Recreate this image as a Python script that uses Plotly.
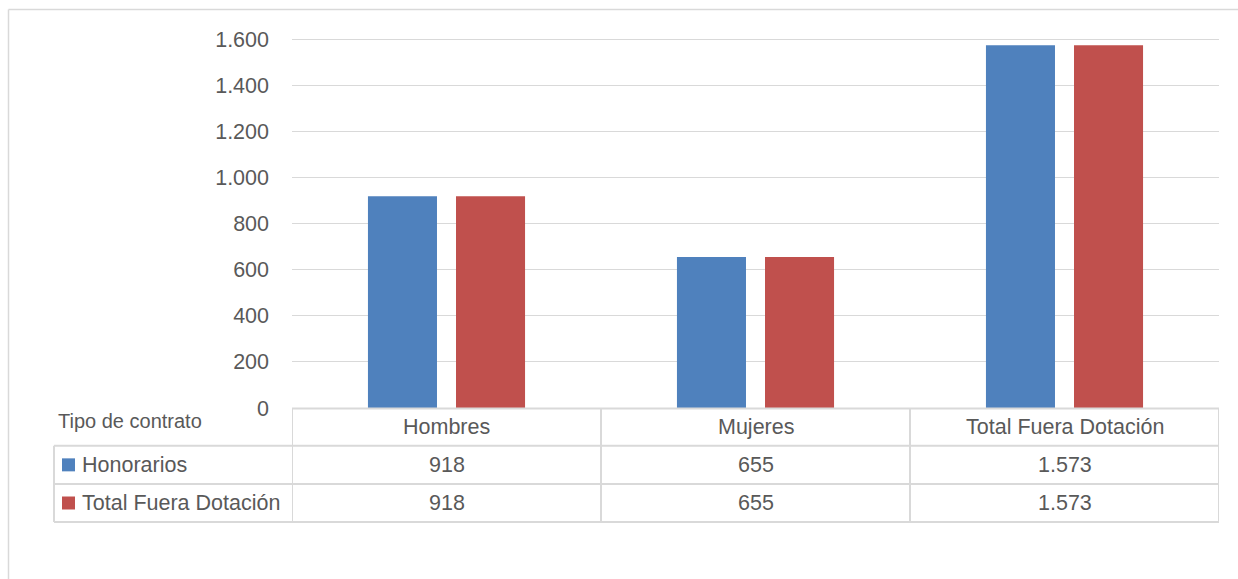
import plotly.graph_objects as go

# ---- data ----
categories = ["Hombres", "Mujeres", "Total Fuera Dotación"]
series_names = ["Honorarios", "Total Fuera Dotación"]
honorarios = [918, 655, 1573]
total_fuera_dotacion = [918, 655, 1573]
tick_values = [0, 200, 400, 600, 800, 1000, 1200, 1400, 1600]
table_title = "Tipo de contrato"

series_values = [honorarios, total_fuera_dotacion]
series_colors = ["#4F81BD", "#C0504D"]


def fmt(v):
    return f"{v:,}".replace(",", ".")


tick_labels = [fmt(v) for v in tick_values]

W, H = 1238, 579
FONT = "Liberation Sans"
TXT = "#595959"
GRID = "#D9D9D9"


def px(x):
    return x / W


def py(y):
    return 1 - y / H


# plot area geometry (pixels)
X0, X1 = 292, 1219
Y_ZERO, Y_TOP1600 = 408, 39
YMAX = 1612
scale = (Y_ZERO - Y_TOP1600) / 1600.0
y_top_px = Y_ZERO - YMAX * scale

fig = go.Figure()
for name, vals, col in zip(series_names, series_values, series_colors):
    fig.add_trace(go.Bar(x=categories, y=vals, name=name, marker=dict(color=col, line=dict(width=0))))

shapes = []
annotations = []

# chart frame
shapes.append(dict(type="line", xref="paper", yref="paper", x0=px(8.5), x1=px(1238), y0=py(9.5), y1=py(9.5),
                   line=dict(color=GRID, width=1.5)))
shapes.append(dict(type="line", xref="paper", yref="paper", x0=px(8.5), x1=px(8.5), y0=py(9.5), y1=py(579),
                   line=dict(color=GRID, width=1.5)))

# data table geometry
ROW_Y = [408.5, 445.7, 484, 522]
TBL_LEFT = 54
LW = 2
shapes.append(dict(type="line", xref="x", yref="paper", x0=-0.5, x1=len(categories) - 0.5,
                   y0=py(ROW_Y[0]), y1=py(ROW_Y[0]), line=dict(color=GRID, width=LW)))
for yy in ROW_Y[1:]:
    shapes.append(dict(type="line", xref="paper", yref="paper", x0=px(TBL_LEFT), x1=px(X1),
                       y0=py(yy), y1=py(yy), line=dict(color=GRID, width=LW)))
shapes.append(dict(type="line", xref="paper", yref="paper", x0=px(TBL_LEFT), x1=px(TBL_LEFT),
                   y0=py(ROW_Y[1]), y1=py(ROW_Y[3]), line=dict(color=GRID, width=LW)))
for i in range(len(categories) + 1):
    xv = i - 0.5
    shapes.append(dict(type="line", xref="x", yref="paper", x0=xv, x1=xv,
                       y0=py(ROW_Y[0]), y1=py(ROW_Y[3]), line=dict(color=GRID, width=LW)))

TFS = 21.5
for c in categories:
    annotations.append(dict(x=c, xref="x", y=py((ROW_Y[0] + ROW_Y[1]) / 2), yref="paper",
                            text=c, showarrow=False, font=dict(family=FONT, size=TFS, color=TXT),
                            xanchor="center", yanchor="middle"))
annotations.append(dict(x=px(56), xref="paper", y=py(421), yref="paper", text=table_title,
                        showarrow=False, font=dict(family=FONT, size=20, color=TXT),
                        xanchor="left", yanchor="middle"))

for r, (name, vals, col) in enumerate(zip(series_names, series_values, series_colors)):
    yc = (ROW_Y[r + 1] + ROW_Y[r + 2]) / 2
    shapes.append(dict(type="rect", xref="paper", yref="paper", x0=px(62), x1=px(75),
                       y0=py(yc - 6.5), y1=py(yc + 6.5), fillcolor=col, line=dict(width=0)))
    annotations.append(dict(x=px(80), xref="paper", y=py(yc), yref="paper", text=name,
                            showarrow=False, font=dict(family=FONT, size=TFS, color=TXT),
                            xanchor="left", yanchor="middle"))
    for c, v in zip(categories, vals):
        annotations.append(dict(x=c, xref="x", y=py(yc), yref="paper", text=fmt(v),
                                showarrow=False, font=dict(family=FONT, size=TFS, color=TXT),
                                xanchor="center", yanchor="middle"))

fig.update_layout(
    width=W, height=H, autosize=False,
    margin=dict(l=0, r=0, t=0, b=0, autoexpand=False),
    paper_bgcolor="white", plot_bgcolor="white",
    barmode="group", bargap=0.43, bargroupgap=0.216,
    showlegend=False,
    separators=",.",
    font=dict(family=FONT, color=TXT),
    xaxis=dict(domain=[px(X0), px(X1)], range=[-0.5, len(categories) - 0.5], automargin=False,
               showticklabels=False, showgrid=False, zeroline=False, showline=False, ticks=""),
    yaxis=dict(domain=[py(Y_ZERO), py(y_top_px)], range=[0, YMAX], automargin=False,
               tickvals=tick_values, ticktext=tick_labels,
               showgrid=True, gridcolor=GRID, gridwidth=1.3, zeroline=False, showline=False,
               ticks="", ticklabelstandoff=22,
               tickfont=dict(family=FONT, size=TFS, color=TXT)),
    shapes=shapes, annotations=annotations,
)

fig.write_html("out.html", config={"displayModeBar": False},
               post_script="document.body.style.margin='0';")
